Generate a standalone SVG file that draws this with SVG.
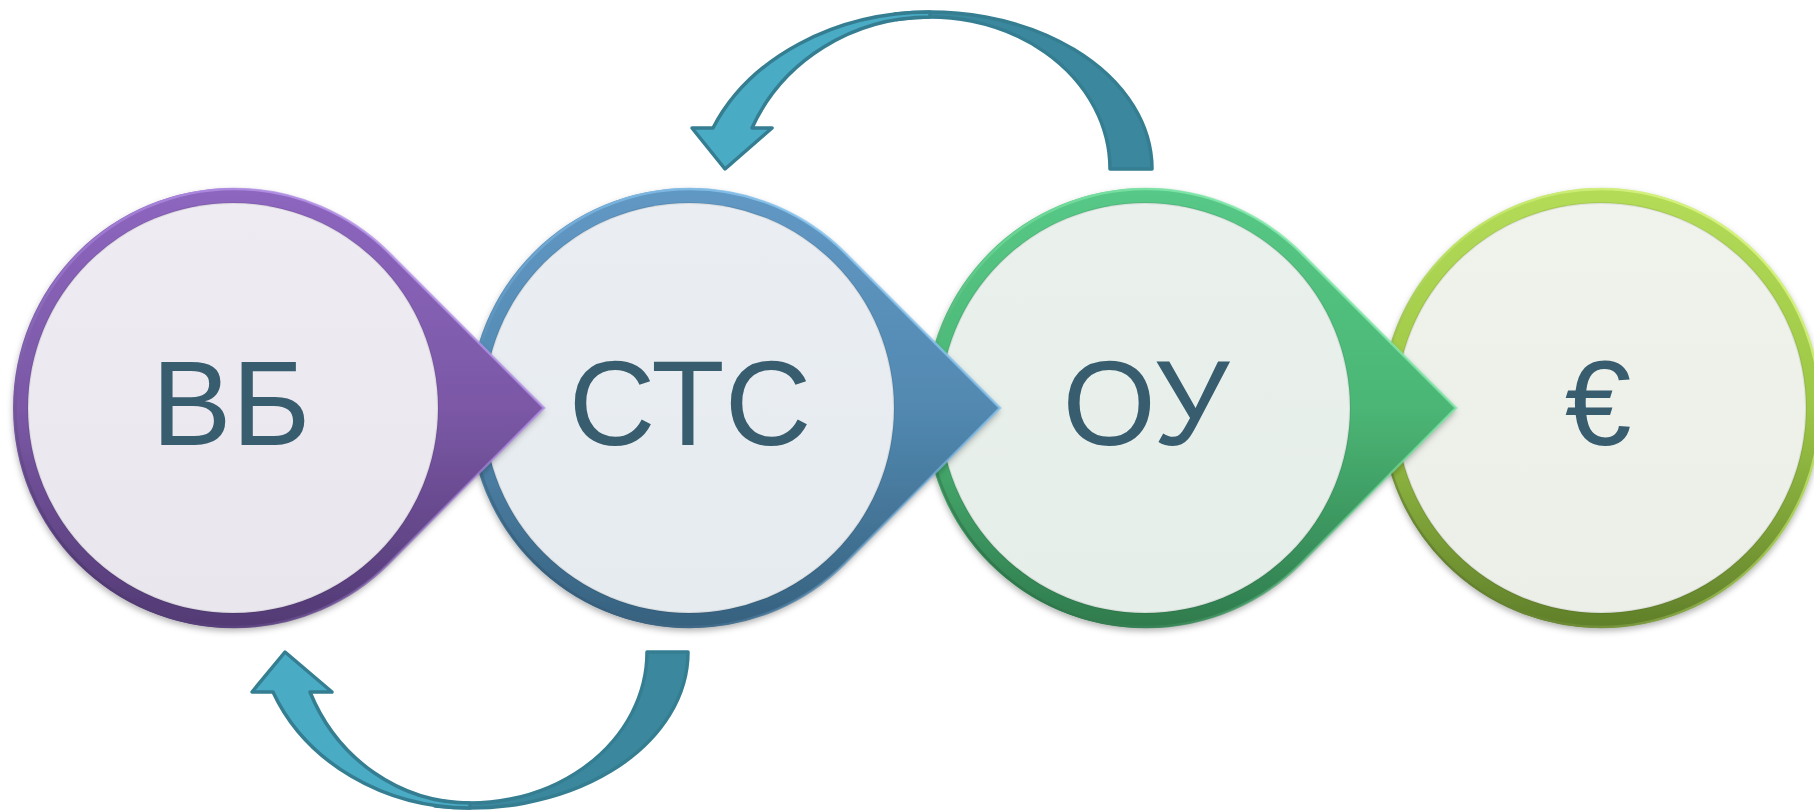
<svg xmlns="http://www.w3.org/2000/svg" width="1814" height="810" viewBox="0 0 1814 810">
<defs>
<style>
.lbl{font-family:'Liberation Sans',Arial,sans-serif;font-size:120px;fill:#385d6e;text-anchor:middle}
.cl{fill:#4aabc5;stroke:#357e92;stroke-width:3.5;stroke-linejoin:round}
.cd{fill:#3b889e;stroke:#357e92;stroke-width:3.5;stroke-linejoin:round}
.edge{fill:none;stroke-width:2.5}
.inner{stroke:#000;stroke-opacity:0.07;stroke-width:2}
</style>
<filter id="sh" x="-10%" y="-10%" width="120%" height="125%">
<feDropShadow dx="0" dy="3" stdDeviation="3" flood-color="#000" flood-opacity="0.3"/>
</filter>
<linearGradient id="gP" x1="0" y1="0" x2="0" y2="1">
<stop offset="0" stop-color="#8d66bf"/><stop offset="0.5" stop-color="#7b58a6"/><stop offset="1" stop-color="#523a74"/>
</linearGradient>
<linearGradient id="gB" x1="0" y1="0" x2="0" y2="1">
<stop offset="0" stop-color="#6198c4"/><stop offset="0.5" stop-color="#5289b1"/><stop offset="1" stop-color="#36617e"/>
</linearGradient>
<linearGradient id="gG" x1="0" y1="0" x2="0" y2="1">
<stop offset="0" stop-color="#57c887"/><stop offset="0.5" stop-color="#4bb675"/><stop offset="1" stop-color="#2f7b4d"/>
</linearGradient>
<linearGradient id="gL" x1="0" y1="0" x2="0" y2="1">
<stop offset="0" stop-color="#b4dc58"/><stop offset="0.5" stop-color="#9cc646"/><stop offset="1" stop-color="#607f2a"/>
</linearGradient>
<linearGradient id="hP" x1="0.9" y1="0" x2="0.1" y2="1">
<stop offset="0" stop-color="#c4a6f4"/><stop offset="0.45" stop-color="#a884dc" stop-opacity="0.6"/><stop offset="1" stop-color="#3f2c5c"/>
</linearGradient>
<linearGradient id="hB" x1="0.9" y1="0" x2="0.1" y2="1">
<stop offset="0" stop-color="#9ad4fa"/><stop offset="0.45" stop-color="#7ab4e0" stop-opacity="0.6"/><stop offset="1" stop-color="#2a4d66"/>
</linearGradient>
<linearGradient id="hG" x1="0.9" y1="0" x2="0.1" y2="1">
<stop offset="0" stop-color="#96f4bc"/><stop offset="0.45" stop-color="#74dc9c" stop-opacity="0.6"/><stop offset="1" stop-color="#23613b"/>
</linearGradient>
<linearGradient id="hL" x1="0.9" y1="0" x2="0.1" y2="1">
<stop offset="0" stop-color="#e0f888"/><stop offset="0.45" stop-color="#c4e870" stop-opacity="0.6"/><stop offset="1" stop-color="#4b6620"/>
</linearGradient>
<linearGradient id="iP" x1="0" y1="0" x2="0" y2="1">
<stop offset="0" stop-color="#eeebf2"/><stop offset="1" stop-color="#e9e6ee"/>
</linearGradient>
<linearGradient id="iB" x1="0" y1="0" x2="0" y2="1">
<stop offset="0" stop-color="#eaeef2"/><stop offset="1" stop-color="#e6ebef"/>
</linearGradient>
<linearGradient id="iG" x1="0" y1="0" x2="0" y2="1">
<stop offset="0" stop-color="#eaf1ed"/><stop offset="1" stop-color="#e6eee9"/>
</linearGradient>
<linearGradient id="iL" x1="0" y1="0" x2="0" y2="1">
<stop offset="0" stop-color="#f0f2ec"/><stop offset="1" stop-color="#ecefe8"/>
</linearGradient>
</defs>
<rect width="1814" height="810" fill="#ffffff"/>

<g id="node-eur">
<circle cx="1601" cy="408" r="220" fill="url(#gL)" filter="url(#sh)"/>
<circle cx="1601" cy="408" r="219" class="edge" stroke="url(#hL)"/>
<circle cx="1601" cy="408" r="205" fill="url(#iL)" class="inner"/>
<text x="1598" y="445" class="lbl">€</text>
</g>

<g id="node-oy">
<path d="M1456,408 L1300.56,252.44 A220,220 0 1 0 1300.56,563.56 Z" fill="url(#gG)" filter="url(#sh)"/>
<path d="M1456,408 L1300.56,252.44 A219,219 0 1 0 1300.56,563.56 Z" class="edge" stroke="url(#hG)"/>
<circle cx="1145" cy="408" r="205" fill="url(#iG)" class="inner"/>
<text x="1146" y="445" class="lbl">ОУ</text>
</g>

<g id="node-ctc">
<path d="M1000,408 L844.56,252.44 A220,220 0 1 0 844.56,563.56 Z" fill="url(#gB)" filter="url(#sh)"/>
<path d="M1000,408 L844.56,252.44 A219,219 0 1 0 844.56,563.56 Z" class="edge" stroke="url(#hB)"/>
<circle cx="689" cy="408" r="205" fill="url(#iB)" class="inner"/>
<text x="690" y="445" class="lbl">СТС</text>
</g>

<g id="node-vb">
<path d="M544,408 L388.56,252.44 A220,220 0 1 0 388.56,563.56 Z" fill="url(#gP)" filter="url(#sh)"/>
<path d="M544,408 L388.56,252.44 A219,219 0 1 0 388.56,563.56 Z" class="edge" stroke="url(#hP)"/>
<circle cx="233" cy="408" r="205" fill="url(#iP)" class="inner"/>
<text x="231" y="445" class="lbl">ВБ</text>
</g>

<g id="connectors">
<g id="arrow-top">
<path class="cd" d="M1152,169 A222,157 0 0 0 895,14 L897,19.6 A180,152 0 0 1 1110,169 Z"/>
<path class="cl" d="M713,128 L692,128 L725,169 L772,128 L752,128 A193.6,183 0 0 1 930,17 L930,12 A235,188 0 0 0 713,128 Z"/>
</g>
<g id="arrow-bottom">
<path class="cd" d="M688,652 A218,156 0 0 1 435,806 L437,800.4 A177,151 0 0 0 647,652 Z"/>
<path class="cl" d="M273,692 L252,692 L285,652 L332,692 L310,692 A173.7,182 0 0 0 470,803 L470,808 A213,187 0 0 1 273,692 Z"/>
</g>
</g>
</svg>
